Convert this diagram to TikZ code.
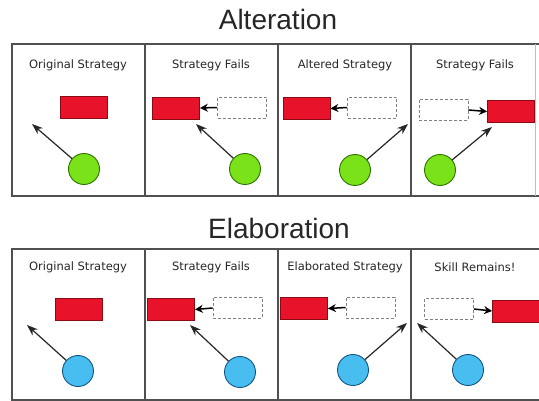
\documentclass[tikz,border=0pt]{standalone}
\usepackage{fontspec}
\setmainfont{Liberation Sans}
\newfontfamily\lblfont{DejaVu Sans}
\usetikzlibrary{arrows.meta}
\definecolor{stratred}{RGB}{232,18,42}
\definecolor{stratredline}{RGB}{140,10,20}
\definecolor{skillgreen}{RGB}{122,226,24}
\definecolor{skillgreenline}{RGB}{45,115,0}
\definecolor{skillblue}{RGB}{72,190,240}
\definecolor{skillblueline}{RGB}{20,85,135}
\definecolor{framegray}{RGB}{80,80,80}
\tikzset{
  redbox/.style={draw=stratredline, fill=stratred, line width=0.8pt, minimum width=47pt, minimum height=22pt, inner sep=0pt},
  ghost/.style={draw=gray, densely dashed, line width=0.7pt, minimum width=49pt, minimum height=21pt, inner sep=0pt},
  gball/.style={circle, draw=skillgreenline, fill=skillgreen, line width=0.9pt, minimum size=31pt, inner sep=0pt},
  bball/.style={circle, draw=skillblueline, fill=skillblue, line width=0.9pt, minimum size=31pt, inner sep=0pt},
  lbl/.style={font=\lblfont\fontsize{11.5}{12}\selectfont, text=black!85, inner sep=0pt},
  ttl/.style={font=\fontsize{28}{30}\selectfont, text=black!85, inner sep=0pt, anchor=base},
  ptr/.style={-{Stealth[length=11pt,width=8pt]}, line width=1.2pt, black!85},
  mv/.style={-{Stealth[length=8pt,width=8pt]}, line width=1.5pt, black},
  frame/.style={draw=framegray, line width=1.4pt}
}
\begin{document}
\begin{tikzpicture}[x=1pt,y=-1pt]
\useasboundingbox (0,0) rectangle (539,401);
\clip (0,0) rectangle (539,401);

% titles
\node[ttl] (t1) at (278,30) {Alteration};
\node[ttl] (t2) at (279,239) {Elaboration};

% frames
\draw[frame] (542,44) -- (12,44) -- (12,196) -- (542,196);
\draw[draw=black!25, line width=0.8pt] (535,44) -- (535,196);
\draw[frame] (145,44) -- (145,196);
\draw[frame] (278,44) -- (278,196);
\draw[frame] (411,44) -- (411,196);
\draw[frame] (542,249) -- (12,249) -- (12,400) -- (542,400);
\draw[frame] (145,249) -- (145,400);
\draw[frame] (278,249) -- (278,400);
\draw[frame] (411,249) -- (411,400);

% ---------- top row ----------
\node[lbl] (ta1) at (78,65) {Original Strategy};
\node[lbl] (ta2) at (211,65) {Strategy Fails};
\node[lbl] (ta3) at (345,65) {Altered Strategy};
\node[lbl] (ta4) at (475,65) {Strategy Fails};

% panel 1
\node[redbox] (tr1) at (83.5,107.5) {};
\node[gball] (tc1) at (84,169) {};
\coordinate (tp1) at (32,124);
\draw[ptr] (tc1) -- (tp1);

% panel 2
\node[redbox] (tr2) at (176,108) {};
\node[ghost] (tg2) at (242,107.5) {};
\draw[mv] (tg2.west) -- (tr2.east);
\node[gball] (tc2) at (245,169) {};
\coordinate (tp2) at (196,124);
\draw[ptr] (tc2) -- (tp2);

% panel 3
\node[redbox] (tr3) at (306.5,108.5) {};
\node[ghost] (tg3) at (372,107.5) {};
\draw[mv] (tg3.west) -- (tr3.east);
\node[gball] (tc3) at (355,170) {};
\coordinate (tp3) at (408,124);
\draw[ptr] (tc3) -- (tp3);

% panel 4
\node[ghost] (tg4) at (443.5,110) {};
\node[redbox] (tr4) at (511,111.5) {};
\draw[mv] (tg4.east) -- (tr4.west);
\node[gball] (tc4) at (440,170) {};
\coordinate (tp4) at (492,127);
\draw[ptr] (tc4) -- (tp4);

% ---------- bottom row ----------
\node[lbl] (ba1) at (78,267) {Original Strategy};
\node[lbl] (ba2) at (211,267) {Strategy Fails};
\node[lbl] (ba3) at (345,267) {Elaborated Strategy};
\node[lbl] (ba4) at (475,267) {Skill Remains!};

% panel 1
\node[redbox] (br1) at (78.5,309) {};
\node[bball] (bc1) at (78,371) {};
\coordinate (bp1) at (27,325);
\draw[ptr] (bc1) -- (bp1);

% panel 2
\node[redbox] (br2) at (171,309.5) {};
\node[ghost] (bg2) at (237.5,308) {};
\draw[mv] (bg2.west) -- (br2.east);
\node[bball] (bc2) at (240,372) {};
\coordinate (bp2) at (190,325);
\draw[ptr] (bc2) -- (bp2);

% panel 3
\node[redbox] (br3) at (304,308.5) {};
\node[ghost] (bg3) at (370.5,307.5) {};
\draw[mv] (bg3.west) -- (br3.east);
\node[bball] (bc3) at (353,370) {};
\coordinate (bp3) at (407,323);
\draw[ptr] (bc3) -- (bp3);

% panel 4
\node[ghost] (bg4) at (449,309) {};
\node[redbox] (br4) at (516,311) {};
\draw[mv] (bg4.east) -- (br4.west);
\node[bball] (bc4) at (468,370) {};
\coordinate (bp4) at (417,323);
\draw[ptr] (bc4) -- (bp4);
\end{tikzpicture}
\end{document}
